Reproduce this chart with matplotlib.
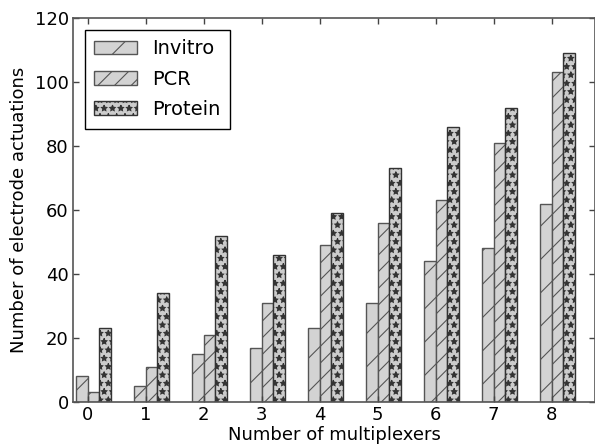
import numpy as np
import matplotlib
matplotlib.use('Agg')
import matplotlib.pyplot as plt

# data
multiplexers = [0, 1, 2, 3, 4, 5, 6, 7, 8]
invitro = [8, 5, 15, 17, 23, 31, 44, 48, 62]
pcr = [3, 11, 21, 31, 49, 56, 63, 81, 103]
protein = [23, 34, 52, 46, 59, 73, 86, 92, 109]

plt.rcParams['hatch.color'] = '#444444'
plt.rcParams['hatch.linewidth'] = 0.8

WIDTH = 0.2
ind = np.array(multiplexers)

fig = plt.figure(figsize=(5.95, 4.45), dpi=100)
ax = fig.add_axes([0.1227, 0.0966, 0.8773, 0.863])

face = '#d3d3d3'
edge = '#555555'
ax.bar(ind - WIDTH, invitro, WIDTH, align='edge', color=face, edgecolor=edge,
       hatch='/', linewidth=1, label='Invitro')
ax.bar(ind, pcr, WIDTH, align='edge', color=face, edgecolor=edge,
       hatch='//', linewidth=1, label='PCR')
ax.bar(ind + WIDTH, protein, WIDTH, align='edge', color='#cccccc', edgecolor='#333333',
       hatch='**', linewidth=1, label='Protein')

ax.set_xlim(-0.25, 8.75)
ax.set_ylim(0, 120)
ax.set_xticks(ind)
ax.set_yticks(range(0, 121, 20))

# classic look: ticks inside on all four sides
ax.tick_params(axis='both', labelsize=13, color='#444444', length=4, width=1,
               direction='in', top=True, right=True, pad=3)
for s in ax.spines.values():
    s.set_color('#555555')
    s.set_linewidth(1.2)

ax.set_xlabel('Number of multiplexers', fontsize=13, labelpad=1)
ax.set_ylabel('Number of electrode actuations', fontsize=13, labelpad=5)

leg = ax.legend(loc='upper left', fontsize=14, fancybox=False, framealpha=1,
                borderaxespad=0.6, borderpad=0.5, handlelength=2.2, handleheight=0.7,
                labelspacing=0.58, handletextpad=0.75)
leg.get_frame().set_edgecolor('black')
leg.get_frame().set_linewidth(1)

fig.savefig('out.png', dpi=100)
